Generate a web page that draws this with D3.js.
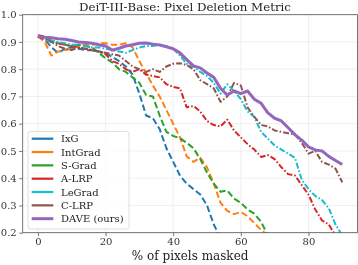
<!DOCTYPE html>
<html lang="en">
<meta charset="utf-8">
<title>DeiT-III-Base: Pixel Deletion Metric</title>
<style>
  body { margin: 0; background: #fff; }
  #chart { position: fixed; left: 0px; top: 0px; }
  text { font-family: "DejaVu Serif", serif; }
</style>
<body>
<div id="chart"></div>
<script src="https://cdn.jsdelivr.net/npm/d3@7"></script>
<script>
  // x positions (% of pixels masked), every 2 %
  var pct = d3.range(0, 91, 2);

  var ixg = [0.92, 0.91, 0.88, 0.86, 0.875, 0.88, 0.875, 0.87, 0.87, 0.865, 0.86, 0.845, 0.83, 0.81, 0.78,
    0.71, 0.63, 0.62, 0.58, 0.51, 0.46, 0.41, 0.38, 0.36, 0.34, 0.30, 0.23, 0.18];
  var intGrad = [0.92, 0.90, 0.85, 0.865, 0.87, 0.875, 0.885, 0.89, 0.89, 0.895, 0.895, 0.89, 0.89, 0.895, 0.88,
    0.83, 0.785, 0.74, 0.70, 0.65, 0.60, 0.55, 0.48, 0.46, 0.475, 0.44, 0.38, 0.31, 0.28, 0.268,
    0.276, 0.26, 0.235, 0.21, 0.19];
  var sGrad = [0.92, 0.915, 0.90, 0.895, 0.89, 0.885, 0.89, 0.885, 0.88, 0.86, 0.84, 0.825, 0.80, 0.79, 0.77,
    0.75, 0.705, 0.70, 0.63, 0.57, 0.555, 0.547, 0.53, 0.51, 0.47, 0.42, 0.38, 0.35, 0.355, 0.325,
    0.31, 0.285, 0.27, 0.24, 0.19];
  var aLrp = [0.925, 0.92, 0.905, 0.895, 0.89, 0.885, 0.88, 0.875, 0.87, 0.865, 0.855, 0.83, 0.82, 0.80, 0.79,
    0.80, 0.78, 0.775, 0.77, 0.745, 0.735, 0.73, 0.66, 0.665, 0.645, 0.61, 0.595, 0.59, 0.615, 0.575,
    0.55, 0.525, 0.505, 0.478, 0.485, 0.47, 0.44, 0.415, 0.41, 0.375, 0.34, 0.285, 0.245, 0.23, 0.19];
  var leGrad = [0.92, 0.915, 0.905, 0.90, 0.895, 0.89, 0.89, 0.885, 0.88, 0.88, 0.875, 0.87, 0.865, 0.86, 0.87,
    0.88, 0.885, 0.885, 0.89, 0.885, 0.875, 0.85, 0.82, 0.81, 0.79, 0.775, 0.75, 0.71, 0.745, 0.72,
    0.69, 0.645, 0.625, 0.57, 0.545, 0.52, 0.505, 0.49, 0.475, 0.395, 0.36, 0.335, 0.32, 0.29, 0.23, 0.19];
  var cLrp = [0.92, 0.91, 0.90, 0.885, 0.875, 0.87, 0.88, 0.875, 0.87, 0.865, 0.86, 0.855, 0.85, 0.83, 0.81,
    0.80, 0.79, 0.80, 0.79, 0.81, 0.82, 0.822, 0.815, 0.80, 0.76, 0.745, 0.73, 0.68, 0.70, 0.75,
    0.74, 0.66, 0.625, 0.595, 0.59, 0.575, 0.57, 0.565, 0.56, 0.53, 0.49, 0.50, 0.46, 0.45, 0.435, 0.385];
  var dave = [0.92, 0.917, 0.915, 0.912, 0.91, 0.905, 0.90, 0.898, 0.895, 0.89, 0.885, 0.87, 0.877, 0.885, 0.89,
    0.895, 0.896, 0.892, 0.889, 0.882, 0.875, 0.86, 0.835, 0.812, 0.805, 0.786, 0.77, 0.73, 0.705, 0.72,
    0.71, 0.72, 0.69, 0.675, 0.64, 0.62, 0.61, 0.585, 0.56, 0.54, 0.515, 0.504, 0.50, 0.48, 0.465, 0.45];

  var names = ["IxG", "IntGrad", "S-Grad", "A-LRP", "LeGrad", "C-LRP", "DAVE (ours)"];
  var colors = ["#1f77b4", "#ff7f0e", "#2ca02c", "#d62728", "#17becf", "#8c564b", "#9467bd"];
  var seriesValues = [ixg, intGrad, sGrad, aLrp, leGrad, cLrp, dave];
  var dashes = ["6.5,3", "6.5,3", "6.5,3", "6,2,1.6,2", "6,2,1.6,2", "6,2,1.6,2", null];

  var xTicks = [0, 20, 40, 60, 80];
  var yTicks = [0.2, 0.3, 0.4, 0.5, 0.6, 0.7, 0.8, 0.9, 1.0];

  var W = 358, H = 265;
  // plot area edges (window.top is reserved, so prefixed names)
  var pLeft = 22.7, pRight = 357.5, pTop = 14.7, pBottom = 232.7;

  var svg = d3.select("#chart").append("svg").attr("width", W).attr("height", H);

  var x = d3.scaleLinear().domain([-4.5, 94.5]).range([pLeft, pRight]);
  var y = d3.scaleLinear().domain([0.2, 1.0]).range([pBottom, pTop]);

  // Grid
  var grid = svg.append("g");
  grid.selectAll("line.gx").data(xTicks).join("line")
    .attr("x1", d => x(d)).attr("x2", d => x(d))
    .attr("y1", pTop).attr("y2", pBottom)
    .attr("stroke", "#ebebeb").attr("stroke-width", 0.8);
  grid.selectAll("line.gy").data(yTicks).join("line")
    .attr("x1", pLeft).attr("x2", pRight)
    .attr("y1", d => y(d)).attr("y2", d => y(d))
    .attr("stroke", "#ebebeb").attr("stroke-width", 0.8);

  // Lines, clipped to the plot area
  svg.append("clipPath").attr("id", "plotClip").append("rect")
    .attr("x", pLeft).attr("y", pTop).attr("width", pRight - pLeft).attr("height", pBottom - pTop);

  var line = d3.line()
    .x((d, i) => x(pct[i]))
    .y(d => y(d));

  var lines = svg.append("g").attr("clip-path", "url(#plotClip)");
  seriesValues.forEach(function(vals, k) {
    lines.append("path")
      .datum(vals)
      .attr("d", line)
      .attr("fill", "none")
      .attr("stroke", colors[k])
      .attr("stroke-width", k == 6 ? 3 : 2)
      .attr("stroke-linejoin", "round")
      .attr("stroke-dasharray", dashes[k]);
  });

  // Axes
  var xAxis = svg.append("g").attr("transform", "translate(0," + pBottom + ")")
    .call(d3.axisBottom(x).tickValues(xTicks).tickSize(3.5).tickPadding(2).tickFormat(d3.format("d")));
  var yAxis = svg.append("g").attr("transform", "translate(" + pLeft + ",0)")
    .call(d3.axisLeft(y).tickValues(yTicks).tickSize(3.5).tickPadding(2.5).tickFormat(d3.format(".1f")));
  [xAxis, yAxis].forEach(function(a) {
    a.select(".domain").remove();
    a.selectAll(".tick line").attr("stroke", "#555").attr("stroke-width", 0.8);
    a.selectAll(".tick text").attr("fill", "#333").attr("font-size", 10)
      .attr("font-family", "DejaVu Serif, serif");
  });

  // Frame
  svg.append("rect")
    .attr("x", pLeft).attr("y", pTop).attr("width", pRight - pLeft).attr("height", pBottom - pTop)
    .attr("fill", "none").attr("stroke", "#555").attr("stroke-width", 0.8);

  // Title and axis label
  svg.append("text").attr("x", 185).attr("y", 10.5)
    .attr("text-anchor", "middle").attr("font-size", 11.8).attr("fill", "#222")
    .text("DeiT-III-Base: Pixel Deletion Metric");
  svg.append("text").attr("x", (pLeft + pRight) / 2).attr("y", 260)
    .attr("text-anchor", "middle").attr("font-size", 12).attr("fill", "#222")
    .text("% of pixels masked");

  // Legend
  var legend = svg.append("g");
  legend.append("rect")
    .attr("x", 28).attr("y", 131.5).attr("width", 101).attr("height", 97.5)
    .attr("rx", 2.5).attr("fill", "#fff").attr("fill-opacity", 0.8)
    .attr("stroke", "#d5d5d5").attr("stroke-width", 0.8);
  names.forEach(function(n, k) {
    var ly = 138.7 + k * 13.33;
    legend.append("line")
      .attr("x1", 31.7).attr("x2", 53.3).attr("y1", ly).attr("y2", ly)
      .attr("stroke", colors[k]).attr("stroke-width", k == 6 ? 3 : 2.2);
    legend.append("text")
      .attr("x", 61).attr("y", ly + 3.6)
      .attr("font-size", 10).attr("fill", "#222")
      .text(n);
  });
</script>
</body>
</html>
